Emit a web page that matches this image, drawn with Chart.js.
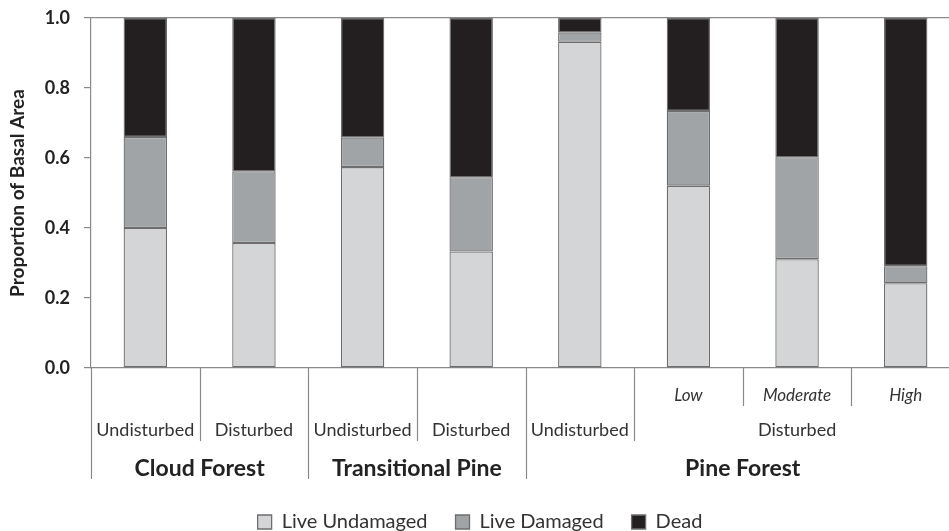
<!DOCTYPE html>
<html>
<head>
<meta charset="utf-8">
<script src="https://cdn.jsdelivr.net/npm/chart.js@4/dist/chart.umd.min.js"></script>
<style>
  html, body { margin: 0; padding: 0; background: #ffffff; overflow: hidden; }
  #wrap { width: 960px; height: 531px; position: relative; }
</style>
</head>
<body>
<div id="wrap"><canvas id="c"></canvas></div>
<script>
// ---- Data ----
const categories = ['Cloud Undisturbed', 'Cloud Disturbed', 'Transitional Undisturbed', 'Transitional Disturbed',
                    'Pine Undisturbed', 'Pine Disturbed Low', 'Pine Disturbed Moderate', 'Pine Disturbed High'];
const liveUndamaged = [0.400, 0.357, 0.574, 0.333, 0.932, 0.521, 0.311, 0.242];
const liveDamaged   = [0.260, 0.205, 0.085, 0.212, 0.027, 0.213, 0.291, 0.049];
const dead          = [0.340, 0.438, 0.341, 0.455, 0.041, 0.266, 0.398, 0.709];
const yTicks = [0, 0.2, 0.4, 0.6, 0.8, 1.0];

// Multi-level category labels (label, number of categories spanned)
const intensityLabels = [['', 5], ['Low', 1], ['Moderate', 1], ['High', 1]];
const conditionLabels = [['Undisturbed', 1], ['Disturbed', 1], ['Undisturbed', 1], ['Disturbed', 1],
                         ['Undisturbed', 1], ['Disturbed', 3]];
const forestLabels = [['Cloud Forest', 2], ['Transitional Pine', 2], ['Pine Forest', 4]];

const FONT = 'Lato, "Open Sans", sans-serif';
const AXIS_COLOR = '#8a8a8a';

const multiLevelLabels = {
  id: 'multiLevelLabels',
  afterDraw(chart) {
    const ctx = chart.ctx;
    const xs = chart.scales.x;
    const n = categories.length;
    const w = (xs.getPixelForValue(1) - xs.getPixelForValue(0));
    const edge = i => xs.getPixelForValue(0) - w / 2 + i * w;
    const y0 = chart.chartArea.bottom;
    const levels = [
      { spans: intensityLabels, depth: 38, textY: 28, font: 'italic 17px ' + FONT, color: '#333' },
      { spans: conditionLabels, depth: 73, textY: 62, font: '18px ' + FONT, color: '#333' },
      { spans: forestLabels,    depth: 111, textY: 101, font: 'bold 23px ' + FONT, color: '#222' }
    ];
    const depthAt = new Array(n + 1).fill(0);
    levels.forEach((lv, li) => {
      let i = 0;
      lv.spans.forEach(([lab, span]) => {
        if (lab !== '' || li > 0) {
          depthAt[i] = Math.max(depthAt[i], lv.depth);
          depthAt[i + span] = Math.max(depthAt[i + span], lv.depth);
        }
        i += span;
      });
    });
    ctx.save();
    ctx.strokeStyle = AXIS_COLOR;
    ctx.lineWidth = 1.2;
    for (let i = 0; i <= n; i++) {
      if (!depthAt[i]) continue;
      const x = Math.round(edge(i)) + 0.5;
      ctx.beginPath();
      ctx.moveTo(x, y0);
      ctx.lineTo(x, y0 + depthAt[i]);
      ctx.stroke();
    }
    ctx.textAlign = 'center';
    ctx.textBaseline = 'middle';
    levels.forEach(lv => {
      ctx.font = lv.font;
      ctx.fillStyle = lv.color;
      let i = 0;
      lv.spans.forEach(([lab, span]) => {
        if (lab) {
          const cx = (edge(i) + edge(i + span)) / 2;
          ctx.fillText(lab, cx, y0 + lv.textY);
        }
        i += span;
      });
    });
    ctx.restore();
  }
};

const barCommon = { borderColor: '#6e6e6e', borderWidth: 1.3, borderSkipped: false,
                    barPercentage: 0.4, categoryPercentage: 1.0 };

new Chart(document.getElementById('c'), {
  type: 'bar',
  data: {
    labels: categories,
    datasets: [
      Object.assign({ label: 'Live Undamaged', data: liveUndamaged, backgroundColor: '#d4d5d7' }, barCommon),
      Object.assign({ label: 'Live Damaged', data: liveDamaged, backgroundColor: '#a1a4a7' }, barCommon),
      Object.assign({ label: 'Dead', data: dead, backgroundColor: '#231f20' }, barCommon)
    ]
  },
  options: {
    responsive: true,
    maintainAspectRatio: false,
    animation: false,
    layout: { padding: { top: 18, left: 0, right: 0, bottom: -11 } },
    plugins: {
      tooltip: { enabled: false },
      legend: {
        position: 'bottom',
        labels: {
          font: { family: FONT, size: 20 },
          color: '#333',
          boxWidth: 14,
          boxHeight: 14,
          padding: 28,
          useBorderRadius: false
        }
      }
    },
    scales: {
      x: {
        stacked: true,
        grid: { display: false },
        border: { display: true, color: AXIS_COLOR, width: 1.2 },
        ticks: { display: false },
        afterFit(scale) { scale.height = 116; }
      },
      y: {
        stacked: true,
        min: 0,
        max: 1,
        afterBuildTicks(scale) { scale.ticks = yTicks.map(v => ({ value: v })); },
        ticks: {
          font: { family: FONT, size: 18, weight: 'bold' },
          color: '#222',
          padding: 14,
          callback: v => Number(v).toFixed(1)
        },
        grid: {
          drawOnChartArea: true,
          color: c => (c.tick && c.tick.value === 1) ? AXIS_COLOR : 'rgba(0,0,0,0)',
          lineWidth: 1.2,
          tickLength: 7,
          tickColor: AXIS_COLOR
        },
        border: { display: true, color: AXIS_COLOR, width: 1.2 },
        title: {
          display: true,
          text: 'Proportion of Basal Area',
          font: { family: FONT, size: 19, weight: 'bold' },
          color: '#222',
          padding: { top: 6, bottom: 4 }
        },
        afterFit(scale) { scale.width = 91; scale.paddingTop = 0; scale.paddingBottom = 0; }
      }
    }
  },
  plugins: [multiLevelLabels]
});
</script>
</body>
</html>
